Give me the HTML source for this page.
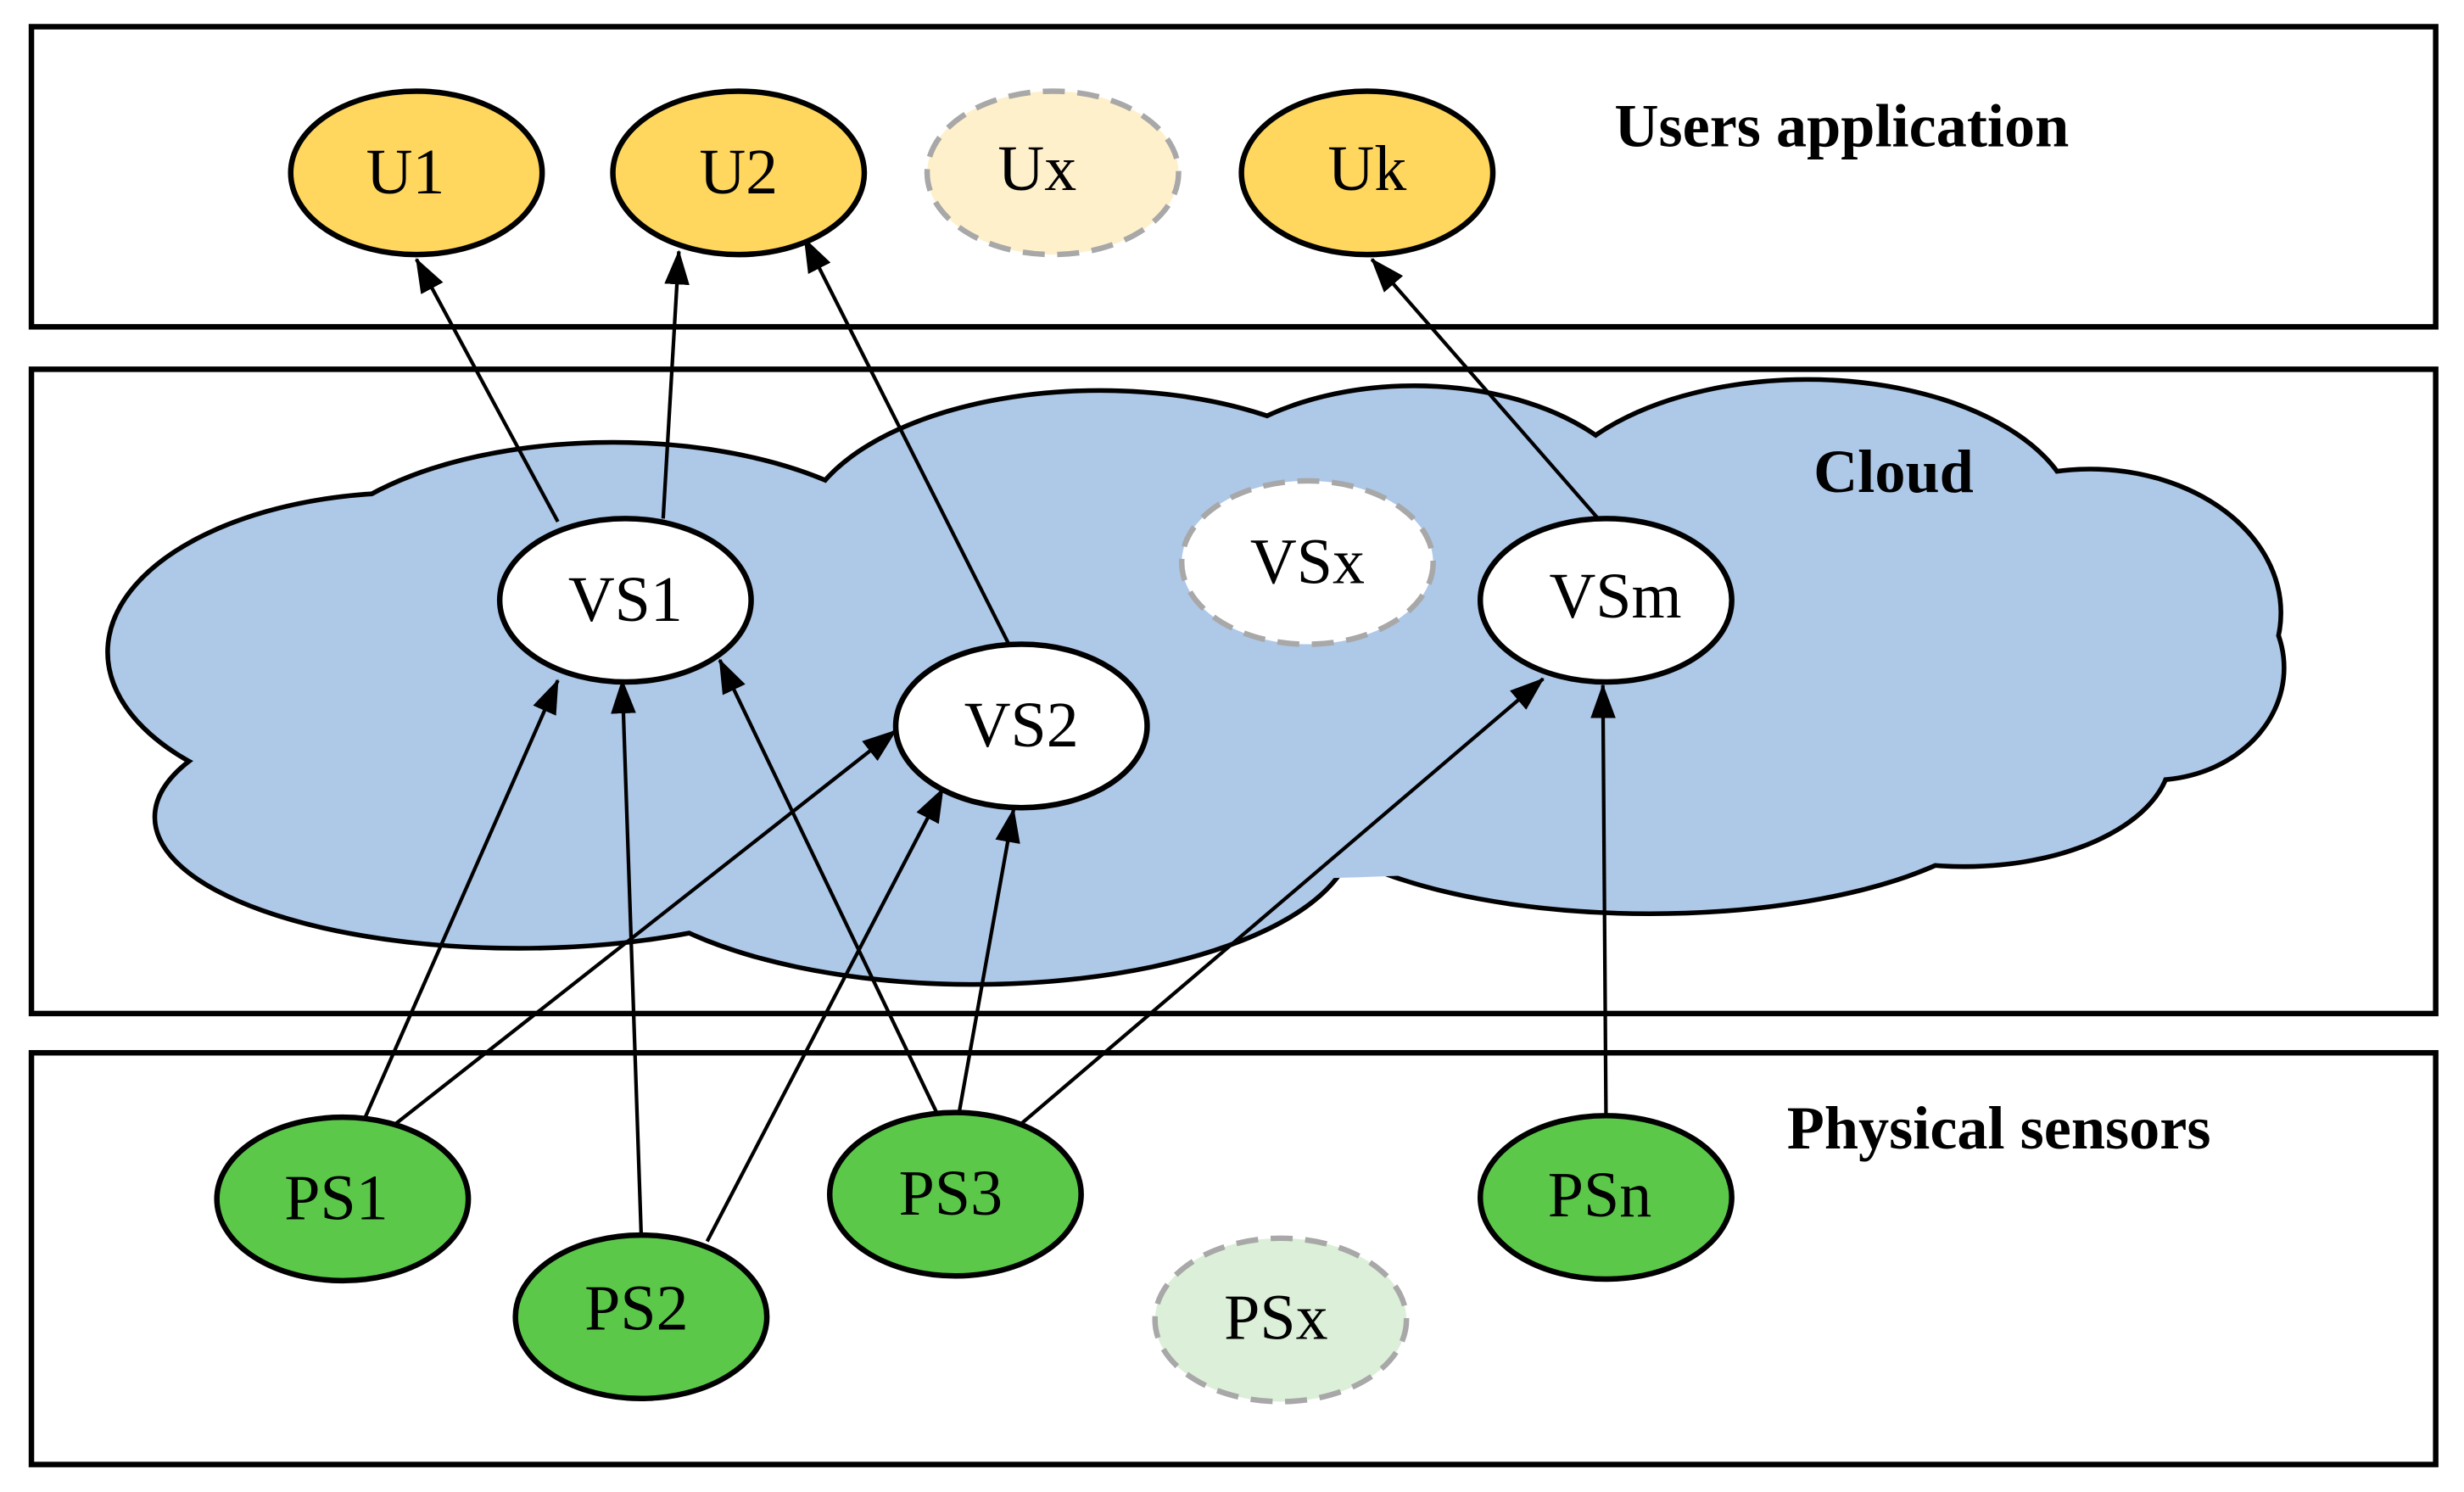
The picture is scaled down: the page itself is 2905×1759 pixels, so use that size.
<!DOCTYPE html>
<html><head><meta charset="utf-8"><style>html,body{margin:0;padding:0;background:#fff}svg{display:block}</style></head>
<body>
<svg width="2905" height="1759" viewBox="0 0 1568 949.5" preserveAspectRatio="none" xmlns="http://www.w3.org/2000/svg">
<defs>
<marker id="a" viewBox="0 0 22 16" refX="21" refY="8" markerWidth="22" markerHeight="16" markerUnits="userSpaceOnUse" orient="auto">
<path d="M0,0 L22,8 L0,16 z" fill="#000"/></marker>
</defs>
<g fill="none" stroke="#000" stroke-width="3.5">
<rect x="20" y="17" width="1530" height="191"/>
<rect x="20" y="235" width="1530" height="410"/>
<rect x="20" y="670" width="1530" height="262"/>
</g>
<!-- cloud -->
<g fill="#AEC8E8" stroke="#000" stroke-width="6">
<ellipse cx="260" cy="415" rx="190" ry="100"/>
<ellipse cx="390" cy="375" rx="200" ry="92"/>
<ellipse cx="700" cy="345" rx="190" ry="95"/>
<ellipse cx="900" cy="335" rx="150" ry="88"/>
<ellipse cx="1150" cy="335" rx="170" ry="92"/>
<ellipse cx="1330" cy="390" rx="120" ry="90"/>
<ellipse cx="1370" cy="425" rx="82" ry="70"/>
<ellipse cx="330" cy="520" rx="230" ry="82"/>
<ellipse cx="620" cy="530" rx="240" ry="95"/>
<ellipse cx="1050" cy="500" rx="230" ry="80"/>
<ellipse cx="1250" cy="480" rx="130" ry="70"/>
</g>
<g fill="#AEC8E8" stroke="none">
<ellipse cx="260" cy="415" rx="190" ry="100"/>
<ellipse cx="390" cy="375" rx="200" ry="92"/>
<ellipse cx="700" cy="345" rx="190" ry="95"/>
<ellipse cx="900" cy="335" rx="150" ry="88"/>
<ellipse cx="1150" cy="335" rx="170" ry="92"/>
<ellipse cx="1330" cy="390" rx="120" ry="90"/>
<ellipse cx="1370" cy="425" rx="82" ry="70"/>
<ellipse cx="330" cy="520" rx="230" ry="82"/>
<ellipse cx="620" cy="530" rx="240" ry="95"/>
<ellipse cx="1050" cy="500" rx="230" ry="80"/>
<ellipse cx="1250" cy="480" rx="130" ry="70"/>
<ellipse cx="760" cy="440" rx="620" ry="120"/>
<ellipse cx="850" cy="505" rx="100" ry="35"/>
</g>
<!-- arrows -->
<g stroke="#000" stroke-width="2.3" marker-end="url(#a)">
<line x1="355" y1="332" x2="265" y2="165"/>
<line x1="422" y1="330" x2="432" y2="160"/>
<line x1="642" y1="410" x2="512" y2="152"/>
<line x1="1017" y1="330" x2="873" y2="165"/>
<line x1="232" y1="712" x2="355" y2="433"/>
<line x1="252" y1="715" x2="570" y2="465"/>
<line x1="408" y1="785" x2="396" y2="433"/>
<line x1="450" y1="790" x2="600" y2="502"/>
<line x1="597" y1="710" x2="458" y2="420"/>
<line x1="610" y1="710" x2="645" y2="515"/>
<line x1="650" y1="715" x2="982" y2="432"/>
<line x1="1022" y1="710" x2="1020" y2="436"/>
</g>
<!-- nodes -->
<g stroke-width="3.5">
<ellipse cx="265" cy="110" rx="80" ry="52" fill="#FFD75E" stroke="#000"/>
<ellipse cx="470" cy="110" rx="80" ry="52" fill="#FFD75E" stroke="#000"/>
<ellipse cx="670" cy="110" rx="80" ry="52" fill="#FFF0CC" stroke="#A8A8A8" stroke-dasharray="14 8"/>
<ellipse cx="870" cy="110" rx="80" ry="52" fill="#FFD75E" stroke="#000"/>
<ellipse cx="398" cy="382" rx="80" ry="52" fill="#fff" stroke="#000"/>
<ellipse cx="650" cy="462" rx="80" ry="52" fill="#fff" stroke="#000"/>
<ellipse cx="832" cy="358" rx="80" ry="52" fill="#fff" stroke="#A8A8A8" stroke-dasharray="14 8"/>
<ellipse cx="1022" cy="382" rx="80" ry="52" fill="#fff" stroke="#000"/>
<ellipse cx="218" cy="763" rx="80" ry="52" fill="#5CC84A" stroke="#000"/>
<ellipse cx="408" cy="838" rx="80" ry="52" fill="#5CC84A" stroke="#000"/>
<ellipse cx="608" cy="760" rx="80" ry="52" fill="#5CC84A" stroke="#000"/>
<ellipse cx="815" cy="840" rx="80" ry="52" fill="#DCEFD8" stroke="#A8A8A8" stroke-dasharray="14 8"/>
<ellipse cx="1022" cy="762" rx="80" ry="52" fill="#5CC84A" stroke="#000"/>
</g>
<g font-family="Liberation Serif, serif" font-size="41" text-anchor="middle" fill="#000">
<text x="258" y="123">U1</text><text x="470" y="123">U2</text><text x="660" y="121">Ux</text><text x="870" y="121">Uk</text>
<text x="398" y="395">VS1</text><text x="650" y="475">VS2</text><text x="832" y="371">VSx</text><text x="1028" y="393">VSm</text>
<text x="214" y="776">PS1</text><text x="405" y="846">PS2</text><text x="605" y="773">PS3</text><text x="812" y="852">PSx</text><text x="1018" y="774">PSn</text>
</g>
<g font-family="Liberation Serif, serif" font-size="39" font-weight="bold" text-anchor="middle" fill="#000">
<text x="1172" y="93">Users application</text>
<text x="1205" y="313">Cloud</text>
<text x="1272" y="731">Physical sensors</text>
</g>
</svg>
</body></html>
